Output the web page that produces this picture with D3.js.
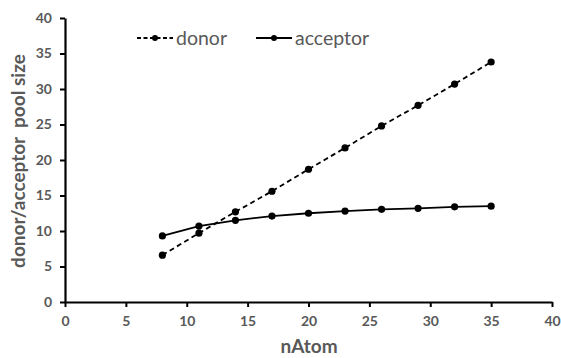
<!DOCTYPE html>
<html>
<head>
<meta charset="utf-8">
<script src="https://cdn.jsdelivr.net/npm/d3@7"></script>
<style>
  body { margin: 0; background: #fff; }
  svg { display: block; }
  .tick text { font-family: Lato, "Open Sans", sans-serif; font-weight: bold; font-size: 14px; fill: #595959; }
  .axis-title { font-family: Lato, "Open Sans", sans-serif; font-weight: bold; font-size: 19px; fill: #595959; }
  .legend text { font-family: Lato, "Open Sans", sans-serif; font-size: 19.5px; fill: #595959; }
</style>
</head>
<body>
<svg id="chart" width="561" height="358"></svg>
<script>
const nAtom = [8, 11, 14, 17, 20, 23, 26, 29, 32, 35];
const donor = [6.6, 9.7, 12.7, 15.6, 18.7, 21.7, 24.8, 27.7, 30.7, 33.8];
const acceptor = [9.3, 10.7, 11.5, 12.1, 12.5, 12.8, 13.05, 13.2, 13.4, 13.5];
const xTicks = [0, 5, 10, 15, 20, 25, 30, 35, 40];
const yTicks = [0, 5, 10, 15, 20, 25, 30, 35, 40];

const svg = d3.select('#chart');
const x = d3.scaleLinear().domain([0, 40]).range([65, 552]);
const y = d3.scaleLinear().domain([0, 40]).range([302, 18]);

//axes
const xAxis = svg.append('g')
  .attr('transform', `translate(0,${y(0)})`)
  .call(d3.axisBottom(x).tickValues(xTicks).tickSize(5).tickSizeOuter(0).tickPadding(9));
const yAxis = svg.append('g')
  .attr('transform', `translate(${x(0)},0)`)
  .call(d3.axisLeft(y).tickValues(yTicks).tickSize(5).tickSizeOuter(0).tickPadding(8));
[xAxis, yAxis].forEach(a => {
  a.select('.domain').attr('stroke', '#000').attr('stroke-width', 2.2);
  a.selectAll('.tick line').attr('stroke', '#000').attr('stroke-width', 2);
});

const series = [
  {name: 'donor', values: donor, dash: '5,3.5'},
  {name: 'acceptor', values: acceptor, dash: null}
];

const line = d3.line().x((d, i) => x(nAtom[i])).y(d => y(d));

series.forEach(s => {
  svg.append('path')
    .attr('d', line(s.values))
    .attr('fill', 'none')
    .attr('stroke', '#000')
    .attr('stroke-width', 1.8)
    .attr('stroke-dasharray', s.dash);
  svg.append('g').selectAll('circle')
    .data(s.values)
    .join('circle')
    .attr('cx', (d, i) => x(nAtom[i]))
    .attr('cy', d => y(d))
    .attr('r', 3.6)
    .attr('fill', '#000');
});

//legend
const legend = svg.append('g').attr('class', 'legend');
const legendX = [137, 256];
series.forEach((s, i) => {
  const lx = legendX[i], ly = 38;
  legend.append('line')
    .attr('x1', lx).attr('x2', lx + 36).attr('y1', ly).attr('y2', ly)
    .attr('stroke', '#000').attr('stroke-width', 1.8)
    .attr('stroke-dasharray', s.dash ? '4,2.5' : null);
  legend.append('circle').attr('cx', lx + 18).attr('cy', ly).attr('r', 3).attr('fill', '#000');
  legend.append('text').attr('x', lx + 39).attr('y', ly + 7).text(s.name);
});

//axis titles
svg.append('text')
  .attr('class', 'axis-title')
  .attr('x', 309).attr('y', 353)
  .attr('text-anchor', 'middle')
  .text('nAtom');

svg.append('text')
  .attr('class', 'axis-title')
  .attr('transform', 'rotate(-90)')
  .attr('x', -161).attr('y', 25)
  .attr('text-anchor', 'middle')
  .attr('xml:space', 'preserve')
  .style('white-space', 'pre')
  .text('donor/acceptor  pool size');
</script>
</body>
</html>
